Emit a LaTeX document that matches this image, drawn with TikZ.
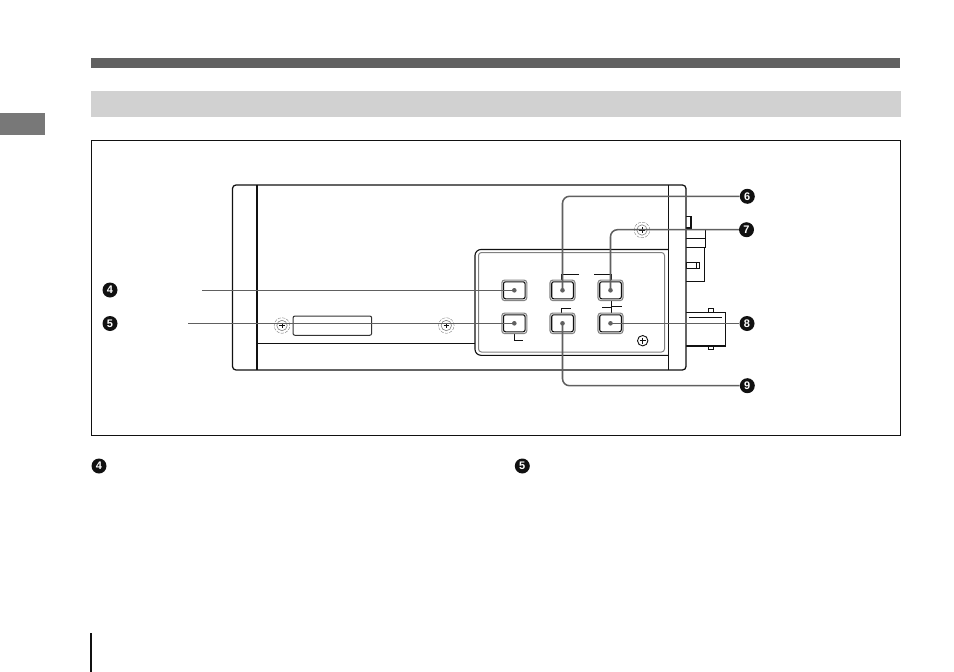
\documentclass[tikz,border=0pt]{standalone}
\usepackage{fontspec}
\setmainfont{Liberation Sans}
\usetikzlibrary{calc}
\definecolor{leadc}{HTML}{606060}
\definecolor{inkc}{HTML}{111111}
\tikzset{
  badge/.style={circle,fill=inkc,text=white,inner sep=0pt,minimum size=15pt,font=\fontsize{11}{11}\selectfont\bfseries},
  btnouter/.style={draw=black!48,line width=1.1pt,rounded corners=2.8pt,minimum width=25pt,minimum height=20.5pt,inner sep=0pt,fill=white},
  btninner/.style={draw=inkc,line width=1.1pt,rounded corners=2pt,minimum width=21.6pt,minimum height=17pt,inner sep=0pt},
  leader/.style={draw=leadc,line width=1.55pt,rounded corners=7pt},
  leaderdot/.style={circle,fill=leadc,inner sep=0pt,minimum size=4.6pt},
  hw/.style={draw=inkc,line width=1.1pt},
  hwthin/.style={draw=inkc,line width=.9pt},
  screwring/.style={draw=black!50,line width=.4pt},
}
\newcommand{\pbutton}[3]{%
  \node[btnouter] (#1) at (#2,#3) {};
  \node[btninner] (#1i) at (#2,#3) {};
  \node[leaderdot] (#1d) at (#2,#3) {};
}
\newcommand{\pscrew}[2]{%
  \draw[screwring,dash pattern=on 3.2pt off 1.2pt] (#1,#2) circle (7.8pt);
  \draw[screwring,line width=.6pt] (#1,#2) circle (5.2pt);
  \draw[draw=inkc,line width=.7pt] (#1-2.6,#2) -- (#1+2.6,#2) (#1,#2-2.6) -- (#1,#2+2.6);
}
\begin{document}
\begin{tikzpicture}[x=1pt,y=-1pt]
\useasboundingbox (0,0) rectangle (954,672);
% page furniture
\fill[black!62] (91,58) rectangle (900,68);
\fill[black!18] (91,90.5) rectangle (901,117);
\fill[black!53] (0,113) rectangle (45,135);
\draw[inkc,line width=1pt] (91.5,140) rectangle (900.5,435);
\draw[inkc,line width=1.1pt] (91,633) -- (91,672);
% connectors at the rear
\draw[hw] (686,216.7) -- (691,216.7) -- (691,228) -- (686,228);
\draw[hw] (686,229.5) -- (705.6,229.5) -- (705.6,247.5) -- (704.3,247.5) -- (704.3,281.5) -- (686,281.5);
\draw[hw] (686,238.3) -- (705.6,238.3);
\draw[hw] (686,247.8) -- (704.3,247.8);
\draw[hwthin] (686,262.3) rectangle (699.8,268.3);
\draw[hwthin] (696,262.3) -- (696,268.3);
\draw[hw] (708.3,312.3) -- (708.3,308.3) -- (713.7,308.3) -- (713.7,312.3);
\draw[hw] (708.3,346) -- (708.3,349.5) -- (713.7,349.5) -- (713.7,346);
\draw[hw] (686,312.3) -- (725.5,312.3) -- (725.5,345.7);
\draw[inkc,line width=1.8pt] (686,345.7) -- (726.2,345.7);
\draw[hwthin] (689,317.3) -- (722,317.3);
% body
\draw[hw,line width=1.25pt,rounded corners=3.5pt,fill=white] (232.5,185) rectangle (686,370);
\draw[hw] (257,185) -- (257,370);
\draw[hw] (668.5,185) -- (668.5,370);
\draw[hw] (257,343.5) -- (475,343.5);
% control panel
\draw[hw,rounded corners=6pt] (668.5,249.5) -- (475,249.5) -- (475,355.3) -- (668.5,355.3);
\draw[draw=black!50,line width=1pt,rounded corners=3pt] (664.5,252.5) -- (478.5,252.5) -- (478.5,352) -- (664.5,352) -- cycle;
% plate and screws
\draw[draw=black!80,line width=1pt,rounded corners=2pt] (293,316) rectangle (371.7,335.3);
\pscrew{282}{325.5}
\pscrew{446.3}{325.5}
\pscrew{642}{230}
\draw[hwthin] (642.7,340.7) circle (5.2pt);
\draw[hwthin] (639.7,340.7) -- (645.7,340.7) (642.7,337.7) -- (642.7,343.7);
% button brackets
\draw[hwthin] (579,274.3) -- (561.7,274.3) -- (561.7,280);
\draw[hwthin] (594,274.3) -- (611.7,274.3) -- (611.7,280);
\draw[hwthin] (611.7,300.5) -- (611.7,306.7) -- (621.7,306.7);
\draw[hwthin] (602.3,307.7) -- (611.7,307.7) -- (611.7,313);
\draw[hwthin] (570.7,308.3) -- (561.7,308.3) -- (561.7,313);
\draw[hwthin] (514.3,333.5) -- (514.3,340) -- (522.7,340);
% buttons
\pbutton{ba}{514.3}{290.3}
\pbutton{bb}{562.5}{290.3}
\pbutton{bc}{610.5}{290.3}
\pbutton{bd}{514.3}{323.3}
\pbutton{be}{562.5}{323.3}
\pbutton{bf}{610.5}{323.3}
% badges
\node[badge] (n4) at (110,290) {4};
\node[badge] (n5) at (110,323.5) {5};
\node[badge] (n6) at (747.3,196.3) {6};
\node[badge] (n7) at (746.5,229.7) {7};
\node[badge] (n8) at (747,323.5) {8};
\node[badge] (n9) at (747.3,385.7) {9};
\node[badge] (t4) at (99,466) {4};
\node[badge] (t5) at (522.3,466) {5};
% leaders
\coordinate (e4) at (202,290.3);
\coordinate (e5) at (188,323.3);
\draw[leader] (e4) -- (bad.center);
\draw[leader] (e5) -- (bdd.center);
\draw[leader] (bbd.center) |- (n6.west);
\draw[leader] (bcd.center) |- (n7.west);
\draw[leader] (bfd.center) -- (bfd.center -| n8.west);
\draw[leader] (bed.center) |- (n9.west);
\end{tikzpicture}
\end{document}
